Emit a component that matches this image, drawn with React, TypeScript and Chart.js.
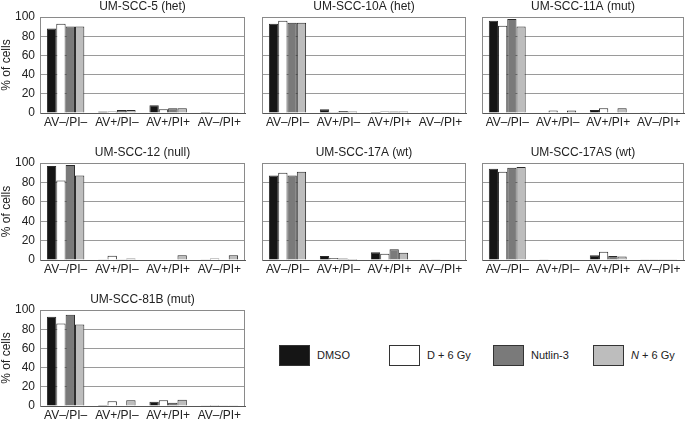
import React, { useEffect, useRef } from "react";
import { Chart, registerables } from "chart.js";
Chart.register(...registerables);

const categories = ["AV–/PI–", "AV+/PI–", "AV+/PI+", "AV–/PI+"];
const seriesNames = ["DMSO", "D + 6 Gy", "Nutlin-3", "N + 6 Gy"];
const seriesColors = ["#151515", "#ffffff", "#7a7a7a", "#bdbdbd"];
const yTickStep = 20;

// [DMSO, D+6Gy, Nutlin-3, N+6Gy], each over the 4 categories
const umscc5 = [[88, 1.5, 8, 1], [93, 1.5, 4, 0.3], [90, 3, 5, 0.3], [90, 3, 5, 0.3]];
const umscc10A = [[93, 4, 1, 0.3], [96, 1, 1.5, 0.3], [94, 2, 1.5, 0.3], [94, 1.5, 1.5, 0.3]];
const umscc11A = [[96, 0.5, 3, 0.3], [91, 2.5, 5, 0], [98, 0.5, 0.5, 0.3], [90, 2.5, 5, 0]];
const umscc12 = [[97, 0.3, 0.5, 0.3], [82, 4.5, 0.5, 1.5], [98, 0.3, 0.5, 0.5], [87, 1.5, 5, 5]];
const umscc17A = [[87, 4, 8, 0], [90, 2, 6.5, 0.3], [87, 1.5, 11, 0], [91, 1, 7.5, 0]];
const umscc17AS = [[94, 0.3, 5, 0.3], [91, 0.5, 8.5, 0.3], [95, 0.5, 4, 0.3], [96, 0.5, 3.5, 0.3]];
const umscc81B = [[93, 1, 4.5, 0.3], [86, 5, 6, 1], [95, 0.5, 3.5, 0.3], [85, 6, 6.5, 0.3]];

const FONT = "'Liberation Sans', Arial, Helvetica, sans-serif";

type PanelProps = {
  title: string;
  values: number[][];
  canvasLeft: number;
  canvasTop: number;
  axisW: number;
  plotWidth: number;
  plotHeight: number;
  showY: boolean;
};

function Panel({ title, values, canvasLeft, canvasTop, axisW, plotWidth, plotHeight, showY }: PanelProps) {
  const ref = useRef<HTMLCanvasElement>(null);
  const padTop = 17;
  const xAxisH = 19;
  const canvasW = axisW + plotWidth + 2;
  const canvasH = padTop + plotHeight + xAxisH;

  useEffect(() => {
    if (!ref.current) return;
    const decor = {
      id: "decor",
      afterDraw(chart: any) {
        const { ctx, chartArea } = chart;
        const { left, right, top, bottom } = chartArea;
        ctx.save();
        ctx.strokeStyle = "#8a8a8a";
        ctx.lineWidth = 1;
        ctx.beginPath();
        ctx.moveTo(left, top + 0.5);
        ctx.lineTo(right, top + 0.5);
        ctx.moveTo(right - 0.5, top);
        ctx.lineTo(right - 0.5, bottom);
        ctx.stroke();
        ctx.fillStyle = "#222";
        ctx.font = `12px ${FONT}`;
        ctx.textAlign = "center";
        ctx.textBaseline = "middle";
        ctx.fillText(title, (left + right) / 2, top - 10);
        if (showY) {
          ctx.translate(7, (top + bottom) / 2);
          ctx.rotate(-Math.PI / 2);
          ctx.fillText("% of cells", 0, 0);
        }
        ctx.restore();
      },
    };
    const chart = new Chart(ref.current, {
      type: "bar",
      data: {
        labels: categories,
        datasets: values.map((v, i) => ({
          label: seriesNames[i],
          data: v,
          backgroundColor: seriesColors[i],
          borderColor: "#2a2a2a",
          borderWidth: 1,
          categoryPercentage: 0.73,
          barPercentage: 1,
        })),
      },
      options: {
        animation: false,
        responsive: false,
        maintainAspectRatio: false,
        layout: { padding: { top: padTop, right: 1, left: 0, bottom: 0 } },
        plugins: {
          legend: { display: false },
          title: { display: false },
          tooltip: { enabled: false },
        },
        scales: {
          x: {
            grid: { display: false, drawTicks: false },
            border: { display: true, color: "#555" },
            ticks: {
              font: { family: FONT, size: 12 },
              color: "#222",
              padding: 2,
              maxRotation: 0,
              autoSkip: false,
            },
            afterFit: (s: any) => {
              s.height = xAxisH;
            },
          },
          y: {
            min: 0,
            max: 100,
            ticks: {
              stepSize: yTickStep,
              display: showY,
              padding: 5,
              font: { family: FONT, size: 12 },
              color: "#222",
            },
            grid: { color: "#9a9a9a", drawTicks: false },
            border: { display: true, color: "#8a8a8a" },
            afterFit: (s: any) => {
              s.width = axisW;
            },
          },
        },
      },
      plugins: [decor],
    } as any);
    return () => chart.destroy();
  }, []);

  return (
    <canvas
      ref={ref}
      width={canvasW}
      height={canvasH}
      style={{ position: "absolute", left: canvasLeft, top: canvasTop, width: canvasW, height: canvasH }}
    />
  );
}

function LegendItem({ x, color, children }: { x: number; color: string; children: React.ReactNode }) {
  return (
    <>
      <div
        style={{
          position: "absolute",
          left: x,
          top: 345,
          width: 29,
          height: 19,
          background: color,
          border: "1px solid #333",
        }}
      />
      <div
        style={{
          position: "absolute",
          left: x + 38,
          top: 348,
          fontFamily: FONT,
          fontSize: 11,
          color: "#222",
          lineHeight: "14px",
          whiteSpace: "nowrap",
        }}
      >
        {children}
      </div>
    </>
  );
}

export default function App() {
  return (
    <div style={{ position: "absolute", left: 0, top: 0, width: 685, height: 423, background: "#fff", overflow: "hidden" }}>
      <Panel title="UM-SCC-5 (het)" values={umscc5} canvasLeft={0} canvasTop={0} axisW={40} plotWidth={204} plotHeight={96} showY />
      <Panel title="UM-SCC-10A (het)" values={umscc10A} canvasLeft={262} canvasTop={0} axisW={0} plotWidth={203} plotHeight={96} showY={false} />
      <Panel title="UM-SCC-11A (mut)" values={umscc11A} canvasLeft={482} canvasTop={0} axisW={0} plotWidth={201} plotHeight={96} showY={false} />
      <Panel title="UM-SCC-12 (null)" values={umscc12} canvasLeft={0} canvasTop={146} axisW={40} plotWidth={204} plotHeight={97} showY />
      <Panel title="UM-SCC-17A (wt)" values={umscc17A} canvasLeft={262} canvasTop={146} axisW={0} plotWidth={203} plotHeight={97} showY={false} />
      <Panel title="UM-SCC-17AS (wt)" values={umscc17AS} canvasLeft={482} canvasTop={146} axisW={0} plotWidth={201} plotHeight={97} showY={false} />
      <Panel title="UM-SCC-81B (mut)" values={umscc81B} canvasLeft={0} canvasTop={293} axisW={40} plotWidth={204} plotHeight={96} showY />
      <LegendItem x={279} color={seriesColors[0]}>{seriesNames[0]}</LegendItem>
      <LegendItem x={389} color={seriesColors[1]}>{seriesNames[1]}</LegendItem>
      <LegendItem x={493} color={seriesColors[2]}>{seriesNames[2]}</LegendItem>
      <LegendItem x={593} color={seriesColors[3]}>
        <i>N</i> + 6 Gy
      </LegendItem>
    </div>
  );
}
